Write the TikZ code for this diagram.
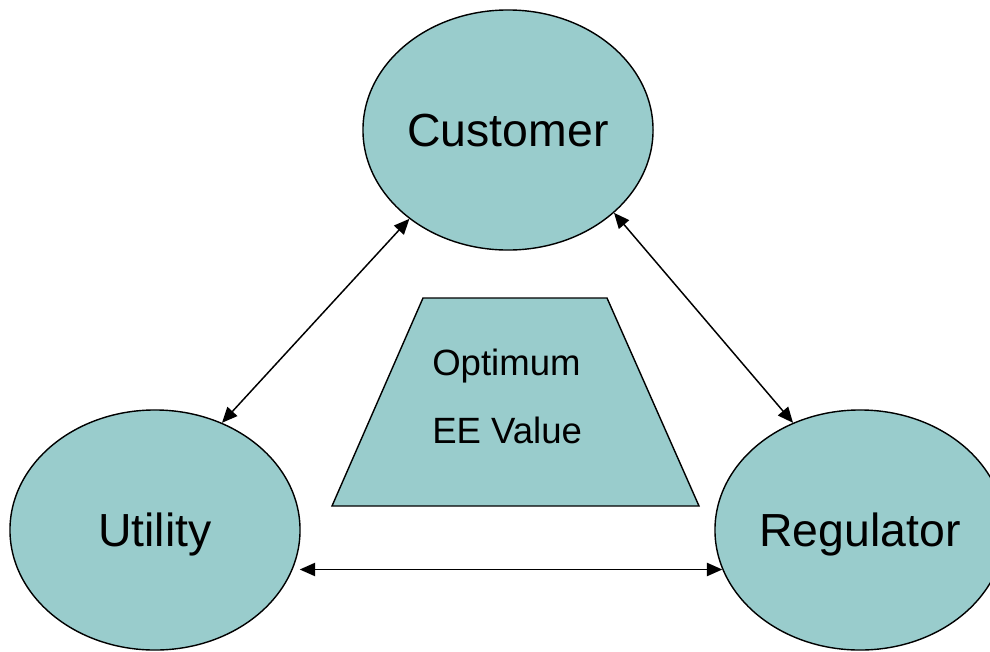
\documentclass[tikz,border=0pt]{standalone}
\usepackage{fontspec}
\setmainfont{Liberation Sans}
\usetikzlibrary{shapes.geometric,arrows.meta}
\definecolor{tealfill}{RGB}{153,204,204}

\begin{document}
\begin{tikzpicture}[x=0.025cm,y=-0.025cm,
	party/.style={ellipse,draw,line width=1pt,fill=tealfill,minimum width=7.25cm,minimum height=6cm,inner sep=0pt,text depth=0pt,font=\fontsize{33}{40}\selectfont},
	link/.style={<->,>={Triangle[length=11pt,width=9.5pt]},line width=1.05pt},
	small/.style={anchor=base west,inner sep=0pt,font=\fontsize{26}{30}\selectfont}]
	\useasboundingbox (0,0) rectangle (990,651);
	
	%PARTIES
	\node[party] (cust) at (508,130) {Customer};
	\node[party] (util) at (155,530) {Utility};
	\node[party] (reg)  at (860,530) {Regulator};
	
	%TRAPEZOID
	\draw[line width=1pt,fill=tealfill] (423,298)--(607,298)--(699,506)--(332,506)--cycle;
	\node[small] (opt) at (432,375) {Optimum};
	\node[small] (val) at (432,443) {EE Value};
	
	%LINKS
	\draw[link] (cust.222)--(util.58);
	\draw[link] (cust.322.3)--(reg.122.5);
	\draw[link,shorten <=5pt] (util.-16)--(reg.196);
\end{tikzpicture}
\end{document}
